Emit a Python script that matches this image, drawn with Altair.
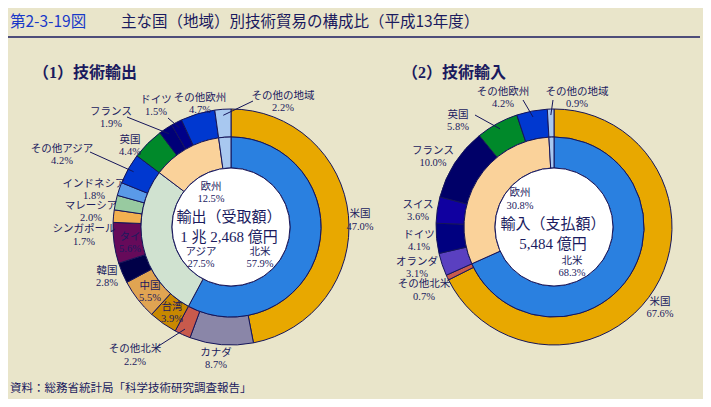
import math
import altair as alt
import pandas as pd

# ---------------- data ----------------
export_countries = ["米国", "カナダ", "その他北米", "台湾", "中国", "韓国", "タイ",
                    "シンガポール", "マレーシア", "インドネシア", "その他アジア",
                    "英国", "フランス", "ドイツ", "その他欧州", "その他の地域"]
export_country_pct = [47.0, 8.7, 2.2, 3.9, 5.5, 2.8, 5.6, 1.7, 2.0, 1.8, 4.2,
                      4.4, 1.9, 1.5, 4.7, 2.2]
export_regions = ["北米", "アジア", "欧州", "その他の地域"]
export_region_pct = [57.9, 27.5, 12.5, 2.2]

import_countries = ["米国", "その他北米", "オランダ", "ドイツ", "スイス", "フランス",
                    "英国", "その他欧州", "その他の地域"]
import_country_pct = [67.6, 0.7, 3.1, 4.1, 3.6, 10.0, 5.8, 4.2, 0.9]
import_regions = ["北米", "欧州", "その他の地域"]
import_region_pct = [68.3, 30.8, 0.9]

export_total_text = ["輸出（受取額）", "1 兆 2,468 億円"]
import_total_text = ["輸入（支払額）", "5,484 億円"]

# ---------------- styles ----------------
export_country_colors = ["#E8A800", "#8A86A8", "#C85A4C", "#C88800", "#E0A452", "#000048",
                         "#660A5A", "#F2B050", "#98CAA0", "#5A9AE8", "#0038D0", "#00892A",
                         "#000078", "#000088", "#0038D0", "#A8C8F0"]
export_region_colors = ["#2A80E0", "#D0E2D0", "#FAD29A", "#A8C8F0"]
import_country_colors = ["#E8A800", "#C85A4C", "#5A40C0", "#000080", "#1000A0", "#000068",
                         "#00892A", "#0038D0", "#A8C8F0"]
import_region_colors = ["#2A80E0", "#FAD29A", "#A8C8F0"]

BG = "#E9E5CA"
INK = "#1A1A5E"
EDGE = "#15155A"
LABEL_FONT = "Liberation Serif, Noto Sans CJK JP"
GOTHIC = "Noto Sans CJK JP"
M = 8  # page margin
W, H = 711 - 2 * M, 407 - 2 * M

R_OUT, R_MID, R_IN = 118, 90, 59
LEFT_C = (231, 227)
RIGHT_C = (554, 227)

# label layout (page pixels): name -> (x, y of name line, y of pct line)
export_outer_layout = {
    "米国": (360, 214, 227), "カナダ": (216, 353, 365), "その他北米": (135, 349, 362),
    "台湾": (172, 307, 319), "中国": (150, 286, 298), "韓国": (107, 271, 283),
    "タイ": (130, 237, 249), "シンガポール": (84, 229, 242), "マレーシア": (91, 206, 218),
    "インドネシア": (94, 184, 196), "その他アジア": (62, 149, 161), "英国": (130, 140, 152),
    "フランス": (111, 112, 124), "ドイツ": (156, 100, 112), "その他欧州": (200, 98, 110),
    "その他の地域": (283, 96, 108),
}
export_inner_layout = {"欧州": (211, 187, 199), "アジア": (201, 252, 264), "北米": (260, 252, 264)}
import_outer_layout = {
    "米国": (660, 302, 314), "その他北米": (424, 284, 297), "オランダ": (417, 262, 274),
    "ドイツ": (419, 235, 247), "スイス": (418, 205, 217), "フランス": (433, 151, 163),
    "英国": (458, 115, 127), "その他欧州": (503, 92, 104), "その他の地域": (577, 92, 104),
}
import_inner_layout = {"欧州": (520, 193, 206), "北米": (572, 261, 273)}

# leader lines: name -> end point near label (page pixels)
export_leaders = {"その他の地域": (253, 101), "ドイツ": (168, 118), "フランス": (127, 117),
                  "その他アジア": (90, 152), "その他北米": (157, 347)}
import_leaders = {"英国": (475, 115), "その他欧州": (523, 100), "その他の地域": (553, 100)}


def mid_angles(vals):
    tot = sum(vals)
    out, c = [], 0.0
    for v in vals:
        out.append((c + v / 2) / tot * 2 * math.pi)
        c += v
    return out


def ring(names, vals, colors, center, r_out, r_in):
    df = pd.DataFrame({"name": names, "v": vals, "c": colors, "i": list(range(len(names)))})
    return alt.Chart(df).mark_arc(radius=r_out, radius2=r_in, stroke=EDGE, strokeWidth=1).encode(
        theta=alt.Theta("v:Q", stack=True),
        order=alt.Order("i:Q", sort="ascending"),
        color=alt.Color("c:N", scale=None),
        x=alt.value(center[0] - M),
        y=alt.value(center[1] - M),
    )


def label_layers(names, vals, layout):
    rows = []
    for n, v in zip(names, vals):
        if n in layout:
            x, y1, y2 = layout[n]
            rows.append({"name": n, "pct": f"{v:.1f}%", "x": x - M, "y1": y1 - M, "y2": y2 - M})
    df = pd.DataFrame(rows)
    base = alt.Chart(df).mark_text(font=LABEL_FONT, fontSize=10.5, color=INK, align="center",
                                   baseline="middle")
    a = base.encode(x=alt.X("x:Q", scale=None, axis=None), y=alt.Y("y1:Q", scale=None, axis=None),
                    text="name:N")
    b = base.encode(x=alt.X("x:Q", scale=None, axis=None), y=alt.Y("y2:Q", scale=None, axis=None),
                    text="pct:N")
    return [a, b]


def leader_layer(names, vals, center, ends):
    ang = mid_angles(vals)
    rows = []
    for n, a in zip(names, ang):
        if n in ends:
            r = R_OUT - 6
            sx = center[0] + r * math.sin(a)
            sy = center[1] - r * math.cos(a)
            ex, ey = ends[n]
            rows.append({"x": sx - M, "y": sy - M, "x2": ex - M, "y2": ey - M})
    df = pd.DataFrame(rows)
    return alt.Chart(df).mark_rule(color=EDGE, strokeWidth=1).encode(
        x=alt.X("x:Q", scale=None, axis=None), y=alt.Y("y:Q", scale=None, axis=None),
        x2="x2:Q", y2="y2:Q")


def hole(center):
    return alt.Chart(pd.DataFrame({"k": [0]})).mark_arc(
        radius=R_IN, theta=0, theta2=2 * math.pi, fill="white", stroke=EDGE, strokeWidth=1
    ).encode(x=alt.value(center[0] - M), y=alt.value(center[1] - M))


def text_at(txt, x, y, size, color=INK, font=LABEL_FONT, align="center", weight="normal"):
    return alt.Chart(pd.DataFrame({"t": [txt]})).mark_text(
        font=font, fontSize=size, color=color, align=align, baseline="middle", fontWeight=weight
    ).encode(text="t:N", x=alt.value(x - M), y=alt.value(y - M))


layers = [
    text_at("第2-3-19図", 10, 22, 15.5, color="#1838C8", font=GOTHIC, align="left"),
    text_at("主な国（地域）別技術貿易の構成比（平成13年度）", 121, 22, 15.5, font=GOTHIC, align="left"),
    alt.Chart(pd.DataFrame({"k": [0]})).mark_rule(color=INK, strokeWidth=1.5).encode(
        x=alt.value(8 - M), x2=alt.value(700 - M), y=alt.value(37 - M)),
    text_at("（1）技術輸出", 33, 73, 16, align="left", weight="bold"),
    text_at("（2）技術輸入", 402, 73, 16, align="left", weight="bold"),
    ring(export_countries, export_country_pct, export_country_colors, LEFT_C, R_OUT, R_MID),
    ring(export_regions, export_region_pct, export_region_colors, LEFT_C, R_MID, R_IN),
    hole(LEFT_C),
    ring(import_countries, import_country_pct, import_country_colors, RIGHT_C, R_OUT, R_MID),
    ring(import_regions, import_region_pct, import_region_colors, RIGHT_C, R_MID, R_IN),
    hole(RIGHT_C),
    leader_layer(export_countries, export_country_pct, LEFT_C, export_leaders),
    leader_layer(import_countries, import_country_pct, RIGHT_C, import_leaders),
]
layers += label_layers(export_countries, export_country_pct, export_outer_layout)
layers += label_layers(export_regions, export_region_pct, export_inner_layout)
layers += label_layers(import_countries, import_country_pct, import_outer_layout)
layers += label_layers(import_regions, import_region_pct, import_inner_layout)
layers += [
    text_at(export_total_text[0], 229, 217, 15),
    text_at(export_total_text[1], 229, 237, 15),
    text_at(import_total_text[0], 553, 224, 15),
    text_at(import_total_text[1], 553, 244, 15),
    text_at("資料：総務省統計局「科学技術研究調査報告」", 10, 389, 11.5, align="left"),
]

chart = alt.layer(*layers).resolve_scale(theta="independent").properties(
    width=W, height=H, padding=0, autosize="none", background=BG
).configure_view(stroke=None)

chart.save("out.html", embed_options={"renderer": "svg", "actions": False})
